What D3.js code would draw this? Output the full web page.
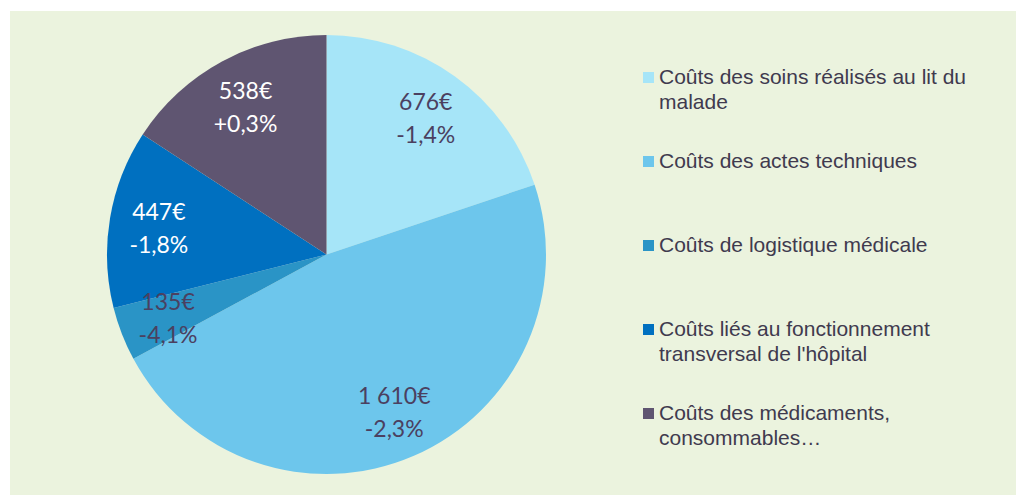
<!DOCTYPE html>
<html>
<head>
<meta charset="utf-8">
<script src="https://cdn.jsdelivr.net/npm/d3@7"></script>
<style>
  body { margin: 0; background: #fff; }
  svg { display: block; }
</style>
</head>
<body>
<svg id="chart" width="1016" height="495"></svg>
<script>
// données du graphique
var categories = [
  "Coûts des soins réalisés au lit du|malade",
  "Coûts des actes techniques",
  "Coûts de logistique médicale",
  "Coûts liés au fonctionnement|transversal de l'hôpital",
  "Coûts des médicaments,|consommables…"
];
var values = [676, 1610, 135, 447, 538];
var amountLabels = ["676€", "1 610€", "135€", "447€", "538€"];
var changeLabels = ["-1,4%", "-2,3%", "-4,1%", "-1,8%", "+0,3%"];
var colors = ["#a6e5f8", "#6dc6ec", "#2a94c6", "#0070c0", "#5f5571"];
var labelColors = ["#4b4060", "#4b4060", "#4b4060", "#ffffff", "#ffffff"];

var svg = d3.select("#chart");

// fond vert pâle
svg.append("rect")
  .attr("x", 10).attr("y", 11)
  .attr("width", 1006).attr("height", 484)
  .attr("fill", "#ebf3de");

var cx = 326.5, cy = 254.5, radius = 219.5;

var pie = d3.pie().sort(null).value(function(d) { return d; });
var arcs = pie(values);

var arc = d3.arc().innerRadius(0).outerRadius(radius);
var labelArc = d3.arc().innerRadius(170).outerRadius(170);

var g = svg.append("g").attr("transform", "translate(" + cx + "," + cy + ")");

g.selectAll("path")
  .data(arcs)
  .enter().append("path")
  .attr("d", arc)
  .attr("fill", function(d, i) { return colors[i]; });

var labels = g.selectAll("text.lbl")
  .data(arcs)
  .enter().append("text")
  .attr("class", "lbl")
  .attr("transform", function(d) { return "translate(" + labelArc.centroid(d) + ")"; })
  .attr("text-anchor", "middle")
  .style("font-family", "Lato, 'Open Sans', sans-serif")
  .style("font-size", "23px")
  .attr("fill", function(d, i) { return labelColors[i]; });

labels.append("tspan")
  .attr("x", 0).attr("y", -6)
  .text(function(d, i) { return amountLabels[i]; });
labels.append("tspan")
  .attr("x", 0).attr("y", 27)
  .text(function(d, i) { return changeLabels[i]; });

// légende (haut de chaque carré)
var legendY = [72, 156, 240, 324, 408];
var legend = svg.append("g");

categories.forEach(function(c, i) {
  var y = legendY[i];
  legend.append("rect")
    .attr("x", 643).attr("y", y)
    .attr("width", 11).attr("height", 11)
    .attr("fill", colors[i]);
  var t = legend.append("text")
    .attr("x", 659).attr("y", y + 12)
    .style("font-family", "'Liberation Sans', Arial, sans-serif")
    .style("font-size", "21px")
    .attr("fill", "#403a4e");
  c.split("|").forEach(function(line, j) {
    t.append("tspan").attr("x", 659).attr("dy", j === 0 ? 0 : 25).text(line);
  });
});
</script>
</body>
</html>
